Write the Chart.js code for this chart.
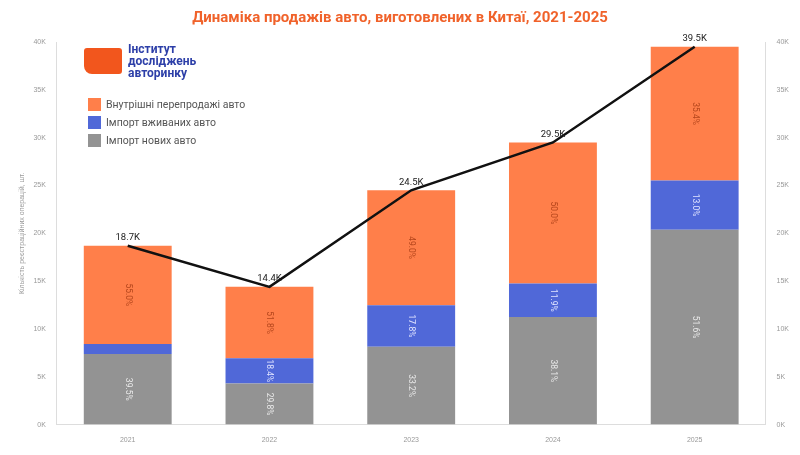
<!DOCTYPE html>
<html>
<head>
<meta charset="utf-8">
<script src="https://cdn.jsdelivr.net/npm/chart.js@4"></script>
<style>
body { margin: 0; background: #fff; font-family: Roboto, sans-serif; }
#wrap { position: relative; width: 800px; height: 455px; }
#title { position: absolute; top: 8px; left: 0; width: 800px; text-align: center; color: #f0622a; font-weight: bold; font-size: 15px; }
#logo { position: absolute; left: 84px; top: 43px; display: flex; align-items: center; }
#logo .mark { width: 38px; height: 26px; background: #f2561d; border-radius: 3px 3px 3px 8px; margin-right: 6px; }
#logo .txt { color: #2d3fa8; font-weight: bold; font-size: 12px; line-height: 12px; }
#legend { position: absolute; left: 88px; top: 95px; font-size: 10.5px; color: #555; }
#legend div { display: flex; align-items: center; height: 18px; }
#legend span { display: inline-block; width: 13px; height: 13px; margin-right: 5px; }
</style>
</head>
<body>
<div id="wrap">
  <canvas id="c" width="800" height="455"></canvas>
  <div id="title">Динаміка продажів авто, виготовлених в Китаї, 2021-2025</div>
  <div id="logo"><div class="mark"></div><div class="txt">Інститут<br>досліджень<br>авторинку</div></div>
  <div id="legend">
    <div><span style="background:#ff7f4a"></span>Внутрішні перепродажі авто</div>
    <div><span style="background:#5068d8"></span>Імпорт вживаних авто</div>
    <div><span style="background:#939393"></span>Імпорт нових авто</div>
  </div>
</div>
<script>
const years = ['2021', '2022', '2023', '2024', '2025'];
const newCars = [7.39, 4.29, 8.13, 11.24, 20.38];
const usedCars = [1.03, 2.65, 4.36, 3.51, 5.14];
const resales = [10.28, 7.46, 12.01, 14.75, 13.98];
const totals = [18.7, 14.4, 24.5, 29.5, 39.5];
const newPct = ['39.5%', '29.8%', '33.2%', '38.1%', '51.6%'];
const usedPct = ['', '18.4%', '17.8%', '11.9%', '13.0%'];
const resalePct = ['55.0%', '51.8%', '49.0%', '50.0%', '35.4%'];

const pctLabels = [newPct, usedPct, resalePct];
const pctColors = ['#e8e8e8', '#dfe3ff', '#b5461c'];

const labelPlugin = {
  id: 'labels',
  afterDatasetsDraw(chart) {
    const ctx = chart.ctx;
    ctx.save();
    ctx.font = '8.5px Roboto';
    ctx.textAlign = 'center';
    ctx.textBaseline = 'middle';
    [1, 2, 3].forEach((di, k) => {
      chart.getDatasetMeta(di).data.forEach((bar, i) => {
        const t = pctLabels[k][i];
        if (!t) return;
        ctx.save();
        ctx.translate(bar.x, (bar.y + bar.base) / 2);
        ctx.rotate(Math.PI / 2);
        ctx.fillStyle = pctColors[k];
        ctx.fillText(t, 0, 0);
        ctx.restore();
      });
    });
    ctx.font = '9.5px Roboto';
    ctx.fillStyle = '#222';
    chart.getDatasetMeta(0).data.forEach((p, i) => {
      ctx.fillText(totals[i] + 'K', p.x, p.y - 8);
    });
    ctx.restore();
  }
};

const tickCfg = { color: '#999', font: { size: 7 }, stepSize: 5, callback: v => v + 'K' };

new Chart(document.getElementById('c'), {
  data: {
    labels: years,
    datasets: [
      { type: 'line', data: totals, borderColor: '#111', borderWidth: 2.5, pointRadius: 0, yAxisID: 'y', order: 0 },
      { type: 'bar', data: newCars, backgroundColor: '#939393', stack: 's', order: 1 },
      { type: 'bar', data: usedCars, backgroundColor: '#5068d8', stack: 's', order: 1 },
      { type: 'bar', data: resales, backgroundColor: '#ff7f4a', stack: 's', order: 1 }
    ]
  },
  options: {
    responsive: false,
    animation: false,
    layout: { padding: { top: 42, left: 14, right: 8, bottom: 8 } },
    plugins: { legend: { display: false }, tooltip: { enabled: false } },
    datasets: { bar: { barPercentage: 0.62, categoryPercentage: 1 } },
    scales: {
      x: { stacked: true, grid: { display: false }, border: { color: '#ddd' }, ticks: { color: '#999', font: { size: 7 } } },
      y: { stacked: true, min: 0, max: 40, grid: { display: false }, border: { color: '#ddd' }, ticks: tickCfg,
           title: { display: true, text: 'Кількість реєстраційних операцій, шт.', color: '#999', font: { size: 7 } } },
      y2: { position: 'right', min: 0, max: 40, grid: { display: false }, border: { color: '#ddd' }, ticks: tickCfg }
    }
  },
  plugins: [labelPlugin]
});
</script>
</body>
</html>
